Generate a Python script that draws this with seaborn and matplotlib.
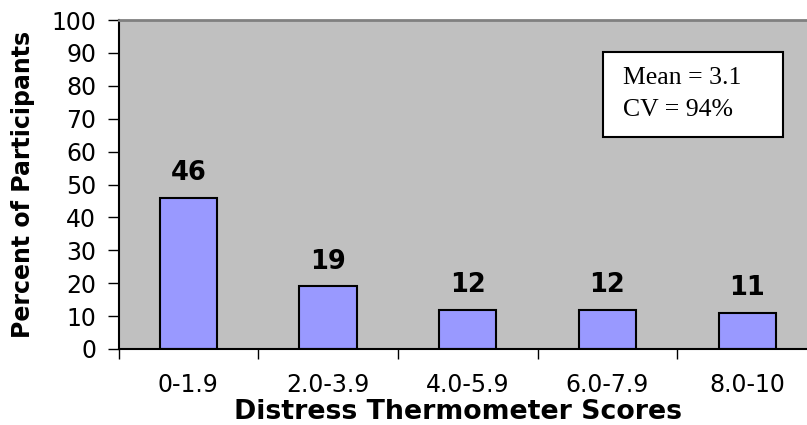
import matplotlib
matplotlib.use("Agg")
import matplotlib.pyplot as plt
from matplotlib.patches import Rectangle
import seaborn as sns
import pandas as pd

# distress thermometer score bins and % of participants
categories = ["0-1.9", "2.0-3.9", "4.0-5.9", "6.0-7.9", "8.0-10"]
percent = [46, 19, 12, 12, 11]
stats_lines = ["Mean = 3.1", "CV = 94%"]

df = pd.DataFrame({"score": categories, "pct": percent})

sns.set_style("white")
plt.rcParams["font.family"] = ["DejaVu Sans"]
plt.rcParams["text.color"] = "black"
plt.rcParams["axes.labelcolor"] = "black"
plt.rcParams["xtick.color"] = "black"
plt.rcParams["ytick.color"] = "black"

fig = plt.figure(figsize=(8.07, 4.25), dpi=100)
# plot area runs past the right edge, like the cropped original
ax = fig.add_axes([118.5 / 807, 76 / 425, 698.5 / 807, 329 / 425])
ax.set_facecolor("#C0C0C0")

sns.barplot(data=df, x="score", y="pct", color="#9999FF", width=0.41,
            edgecolor="black", linewidth=1.5, saturation=1, ax=ax)

for i, v in enumerate(percent):
    ax.text(i, v + 5.4, str(v), ha="center", va="baseline",
            fontsize=18.5, fontweight="bold")

ax.set_ylim(0, 100)
ax.set_xlim(-0.5, 4.5)
ax.set_yticks(range(0, 101, 10))
ax.set_xticks([x - 0.5 for x in range(6)])
ax.set_xticklabels([])
ax.set_xticks(range(5), minor=True)
ax.set_xticklabels(categories, minor=True, fontsize=17)
ax.tick_params(axis="x", which="major", length=7, width=1, direction="out",
               bottom=True)
ax.tick_params(axis="x", which="minor", length=0, pad=17)
ax.tick_params(axis="y", length=8, width=1, direction="out", left=True,
               labelsize=17, pad=8)

ax.set_ylabel("Percent of Participants", fontsize=17, fontweight="bold")
ax.yaxis.label.set_va("center")
ax.yaxis.set_label_coords(-0.1367, 0.5)
ax.set_xlabel("Distress Thermometer Scores", fontsize=19.3,
              fontweight="bold")
ax.xaxis.label.set_va("center")
ax.xaxis.set_label_coords(0.486, -0.1915)

for s in ["left", "bottom"]:
    ax.spines[s].set_color("black")
    ax.spines[s].set_linewidth(1.5)
ax.spines["top"].set_color("#808080")
ax.spines["top"].set_linewidth(2)
ax.spines["right"].set_visible(False)

# stats box
ax.add_patch(Rectangle((0.6936, 0.6444), 0.2577, 0.2583,
                       transform=ax.transAxes, facecolor="white",
                       edgecolor="black", linewidth=1.5, zorder=5))
for line, y in zip(stats_lines, [0.8237, 0.7264]):
    ax.text(0.7223, y, line, transform=ax.transAxes, ha="left",
            va="center", fontsize=18.5, family="Liberation Serif", zorder=6)

fig.savefig("out.png", dpi=100)
